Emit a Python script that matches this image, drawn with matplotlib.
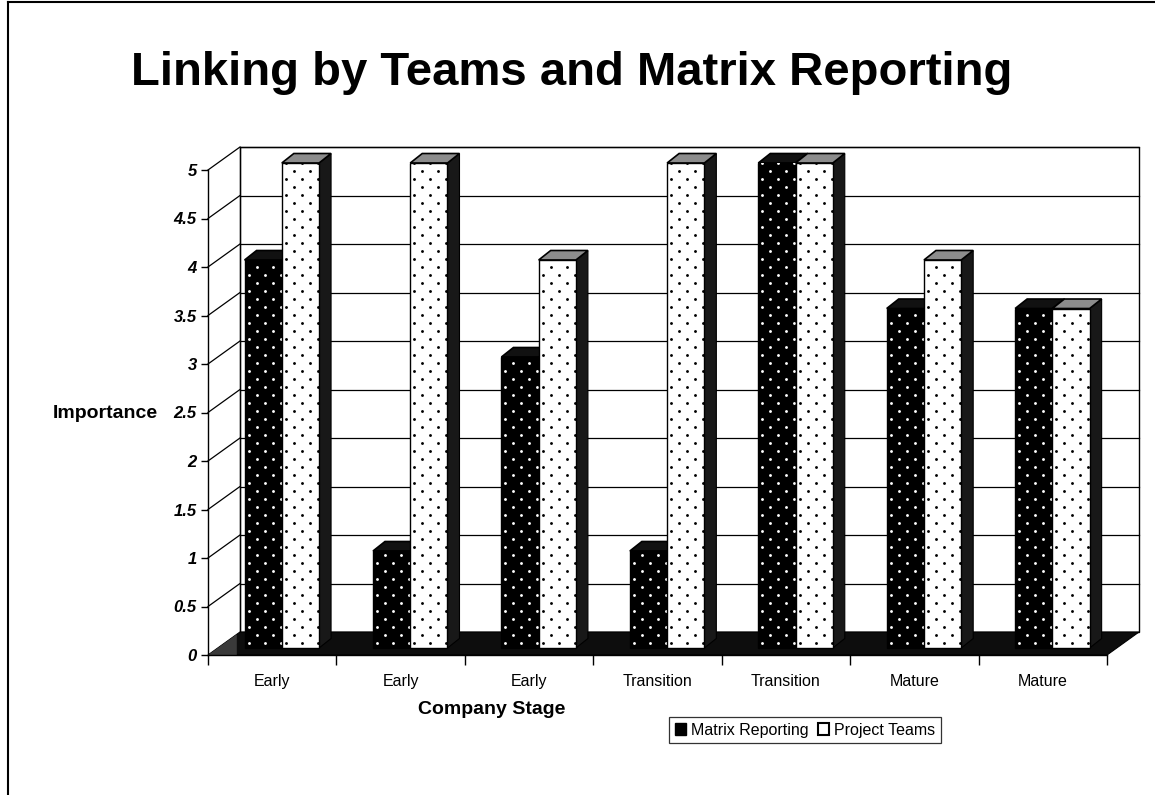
import numpy as np
import matplotlib
matplotlib.use("Agg")
import matplotlib.pyplot as plt
from matplotlib.patches import Polygon, Patch
from matplotlib.lines import Line2D

plt.rcParams['font.family'] = ['Liberation Sans', 'DejaVu Sans']

# ---- data ----
stages = ["Early", "Early", "Early", "Transition", "Transition", "Mature", "Mature"]
matrix_reporting = [4, 1, 3, 1, 5, 3.5, 3.5]
project_teams = [5, 5, 4, 5, 5, 4, 3.5]
series_names = ["Matrix Reporting", "Project Teams"]
y_ticks = [0, 0.5, 1, 1.5, 2, 2.5, 3, 3.5, 4, 4.5, 5]
y_tick_labels = ["0", "0.5", "1", "1.5", "2", "2.5", "3", "3.5", "4", "4.5", "5"]

W, H = 1155, 795
fig = plt.figure(figsize=(W / 100, H / 100), dpi=100)
fig.patch.set_facecolor("white")

# front frame of the pseudo-3D plot in pixels
x0p, x1p, y0p, y1p = 208, 1107, 655, 170
ax = fig.add_axes([x0p / W, 1 - y0p / H, (x1p - x0p) / W, (y0p - y1p) / H])
n = len(stages)
ax.set_xlim(0, n)
ax.set_ylim(0, 5)
ax.patch.set_alpha(0)

px_x = (x1p - x0p) / n       # pixels per group
px_y = (y0p - y1p) / 5.0      # pixels per unit
Dx, Dy = 32 / px_x, 23 / px_y     # total depth
fx0, fy0 = 9.6 / px_x, 7.0 / px_y  # bar front offset
bx, by = 12 / px_x, 9.5 / px_y     # bar depth
bw = 0.29
gap = (1 - 2 * bw) / 2

# back wall
wall = Polygon([(Dx, Dy), (n + Dx, Dy), (n + Dx, 5 + Dy), (Dx, 5 + Dy)],
               closed=True, facecolor="white", edgecolor="black", lw=1.0,
               zorder=1, clip_on=False)
ax.add_patch(wall)
for v in y_ticks[1:]:
    ax.plot([Dx, n + Dx], [v + Dy, v + Dy], color="black", lw=0.9, zorder=1.5, clip_on=False)
    ax.plot([0, Dx], [v, v + Dy], color="black", lw=0.9, zorder=1.5, clip_on=False)
ax.plot([Dx, Dx], [Dy, 5 + Dy], color="black", lw=0.9, zorder=1.5, clip_on=False)

# floor
floor = Polygon([(0, 0), (n, 0), (n + Dx, Dy), (Dx, Dy)], closed=True,
                facecolor="#0d0d0d", edgecolor="black", lw=0.8, zorder=2, clip_on=False)
ax.add_patch(floor)
ax.add_patch(Polygon([(0, 0), (Dx * 0.9, Dy * 0.9), (Dx * 0.9, 0)], closed=True,
                     facecolor="#3a3a3a", edgecolor="none", zorder=2.1, clip_on=False))

# dot lattice helper
def dots(patch, x_left, width, bottom, height, color, z):
    sx = 16 / px_x
    sy = 8 / px_y
    rows = np.arange(bottom + sy * 0.6, bottom + height, sy)
    xs, ys = [], []
    for r, yv in enumerate(rows):
        start = x_left + sx * (0.25 if r % 2 == 0 else 0.75)
        for xv in np.arange(start, x_left + width, sx):
            xs.append(xv)
            ys.append(yv)
    sc = ax.scatter(xs, ys, s=4.2, c=color, marker="o", linewidths=0, zorder=z, clip_on=True)
    sc.set_clip_path(patch)

z = 3
for i in range(n):
    for s, vals in enumerate([matrix_reporting, project_teams]):
        v = vals[i]
        xl = i + gap + s * bw + fx0
        front_col = "black" if s == 0 else "white"
        dot_col = "white" if s == 0 else "black"
        top_col = "#111111" if s == 0 else "#8c8c8c"
        side_col = "#0a0a0a" if s == 0 else "#181818"
        side = Polygon([(xl + bw, fy0), (xl + bw + bx, fy0 + by), (xl + bw + bx, fy0 + v + by),
                        (xl + bw, fy0 + v)], closed=True, facecolor=side_col,
                       edgecolor="black", lw=0.8, zorder=z, clip_on=False)
        ax.add_patch(side)
        top = Polygon([(xl, fy0 + v), (xl + bw, fy0 + v), (xl + bw + bx, fy0 + v + by),
                       (xl + bx, fy0 + v + by)], closed=True, facecolor=top_col,
                      edgecolor="black", lw=1.2, zorder=z, clip_on=False)
        ax.add_patch(top)
        bars = ax.bar(xl, v, width=bw, bottom=fy0, align="edge", color=front_col,
                      edgecolor="black", lw=1.0, zorder=z + 0.1, clip_on=False)
        dots(bars[0], xl, bw, fy0, v, dot_col, z + 0.2)
        z += 1

# axes styling
for sp in ["top", "right"]:
    ax.spines[sp].set_visible(False)
for sp in ["left", "bottom"]:
    ax.spines[sp].set_zorder(50)
    ax.spines[sp].set_linewidth(1.0)
ax.set_yticks(y_ticks)
ax.set_yticklabels(y_tick_labels, fontsize=12, fontweight="bold", fontstyle="italic")
ax.tick_params(axis="y", length=5, width=1, pad=3)
ax.set_xticks(np.arange(n) + 0.5)
ax.set_xticklabels(stages, fontsize=11.5)
ax.tick_params(axis="x", length=0, pad=14)
ax.set_xticks(np.arange(n + 1), minor=True)
ax.tick_params(axis="x", which="minor", length=7, width=1)

fig.text(158 / W, 1 - 413 / H, "Importance", ha="right", va="center",
         fontsize=14, fontweight="bold")
fig.text(492 / W, 1 - 710 / H, "Company Stage", ha="center", va="center",
         fontsize=14, fontweight="bold")
fig.text(572 / W, 1 - 73 / H, "Linking by Teams and Matrix Reporting", ha="center",
         va="center", fontsize=34, fontweight="bold")

handles = [Patch(facecolor="black", edgecolor="black"),
           Patch(facecolor="white", edgecolor="black", lw=1.5)]
leg = fig.legend(handles, series_names, loc="center", bbox_to_anchor=(805 / W, 1 - 730 / H),
                 ncol=2, fontsize=11.5, frameon=True, fancybox=False, handlelength=0.7,
                 handleheight=0.7, handletextpad=0.3, columnspacing=0.6, borderpad=0.35,
                 borderaxespad=0)
leg.get_frame().set_edgecolor("black")
leg.get_frame().set_linewidth(0.9)

# figure border (top and left)
fig.add_artist(Line2D([8 / W, 8 / W], [0, 1 - 2 / H], color="black", lw=1.5))
fig.add_artist(Line2D([8 / W, 1], [1 - 2 / H, 1 - 2 / H], color="black", lw=1.5))

fig.savefig("out.png", dpi=100)
